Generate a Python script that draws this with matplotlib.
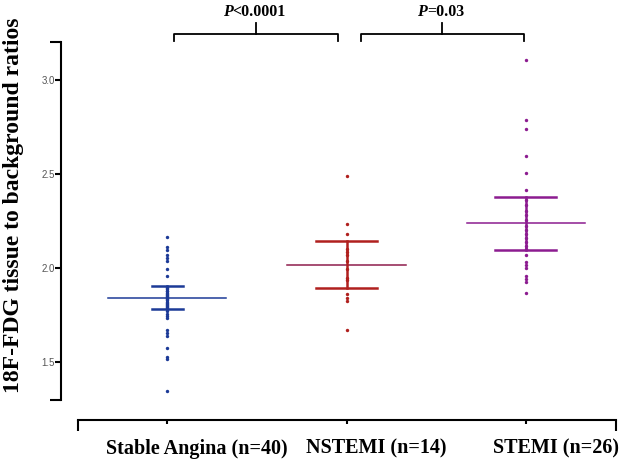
import numpy as np
import matplotlib
matplotlib.use("Agg")
import matplotlib.pyplot as plt
from matplotlib.transforms import ScaledTranslation

# groups and individual ratios
groups = ["Stable Angina (n=40)", "NSTEMI (n=14)", "STEMI (n=26)"]
stable = [2.166, 2.113, 2.095, 2.072, 2.054, 2.037, 1.993, 1.957,
          1.902, 1.896, 1.889, 1.881, 1.876, 1.870, 1.862, 1.858, 1.851, 1.846,
          1.840, 1.835, 1.829, 1.822, 1.816, 1.811, 1.804, 1.799, 1.793, 1.788, 1.785,
          1.775, 1.757, 1.745, 1.734, 1.674, 1.657, 1.639, 1.577, 1.530, 1.520, 1.347]
nstemi = [2.487, 2.235, 2.183, 2.099, 2.084, 2.072, 2.040, 1.995, 1.949, 1.936,
          1.860, 1.842, 1.824, 1.674]
stemi = [3.102, 2.784, 2.740, 2.597, 2.503, 2.415,
         2.362, 2.334, 2.305, 2.281, 2.256, 2.224, 2.203, 2.181, 2.158, 2.139, 2.118, 2.101,
         2.067, 2.031, 2.019, 2.002, 1.957, 1.940, 1.925, 1.869]
means = [1.844, 2.017, 2.238]
ci_low = [1.784, 1.897, 2.097]
ci_high = [1.904, 2.143, 2.376]
pvals = ["<0.0001", "=0.03"]

dot_colors = ["#1c3a97", "#b0201e", "#8c1c90"]
mean_colors = ["#1c3a97", "#8e1c4c", "#8c1c90"]
cap_half = [0.087, 0.17, 0.17]

fig = plt.figure(figsize=(6.22, 4.59), dpi=100)
ax = fig.add_axes([0.1246, 0.1285, 0.865, 0.780])

for i, vals in enumerate([stable, nstemi, stemi]):
    ax.scatter(np.full(len(vals), i), vals, s=6, color=dot_colors[i], zorder=3, lw=0)
    ax.plot([i - 0.33, i + 0.33], [means[i], means[i]], color=mean_colors[i], lw=1.1, zorder=4)
    ax.plot([i, i], [ci_low[i], ci_high[i]], color=dot_colors[i], lw=1.8, zorder=4)
    for v in (ci_low[i], ci_high[i]):
        ax.plot([i - cap_half[i], i + cap_half[i]], [v, v], color=dot_colors[i], lw=1.8, zorder=4)

ax.set_xlim(-0.5, 2.5)
ax.set_ylim(1.3, 3.2)

# prism style axes
for s in ["top", "right"]:
    ax.spines[s].set_visible(False)
ax.spines["left"].set_position(("outward", 12))
ax.spines["bottom"].set_position(("outward", 14.4))
ax.spines["left"].set_linewidth(1.5)
ax.spines["bottom"].set_linewidth(1.5)

ax.set_yticks([1.5, 2.0, 2.5, 3.0])
ax.set_yticklabels(["1.5", "2.0", "2.5", "3.0"])
ax.set_yticks([1.3, 3.2], minor=True)
ax.tick_params(axis="y", which="major", length=4, width=1.5, pad=0.5,
               labelsize=7, labelcolor="#555555")
ax.tick_params(axis="y", which="minor", length=8, width=1.5)
for lab in ax.get_yticklabels():
    lab.set_family("Liberation Sans")

ax.set_xticks([0, 1, 2])
ax.set_xticks([-0.5, 2.5], minor=True)
ax.set_xticklabels(groups)
ax.tick_params(axis="x", which="major", length=3, width=1.5, pad=10.5, labelsize=14.5)
ax.tick_params(axis="x", which="minor", length=8, width=1.5)
shift = ScaledTranslation(30 / 100, 0, fig.dpi_scale_trans)
for lab in ax.get_xticklabels():
    lab.set_family("Liberation Serif")
    lab.set_fontweight("bold")
    lab.set_transform(lab.get_transform() + shift)

ax.set_ylabel("18F-FDG tissue to background ratios", fontsize=17,
              family="Liberation Serif", fontweight="bold")
ax.yaxis.set_label_coords(-0.10, 0.545)

# significance brackets above the plot
brackets = [(0.04, 0.95), (1.08, 1.99)]
p_shift = [-17, -11]
for (x0, x1), p, dx in zip(brackets, pvals, p_shift):
    xm = (x0 + x1) / 2
    ax.plot([x0, x0, x1, x1], [3.205, 3.24, 3.24, 3.205], color="black", lw=1.3,
            clip_on=False, solid_joinstyle="round")
    ax.plot([xm, xm], [3.24, 3.30], color="black", lw=1.3, clip_on=False)
    ax.annotate("P", xy=(xm, 3.36), xytext=(dx, 0), textcoords="offset points",
                ha="right", va="center", fontsize=11.5, family="Liberation Serif",
                fontweight="bold", fontstyle="italic", annotation_clip=False)
    ax.annotate(p, xy=(xm, 3.36), xytext=(dx, 0), textcoords="offset points",
                ha="left", va="center", fontsize=11.5, family="Liberation Serif",
                fontweight="bold", annotation_clip=False)

fig.savefig("out.png", dpi=100)
